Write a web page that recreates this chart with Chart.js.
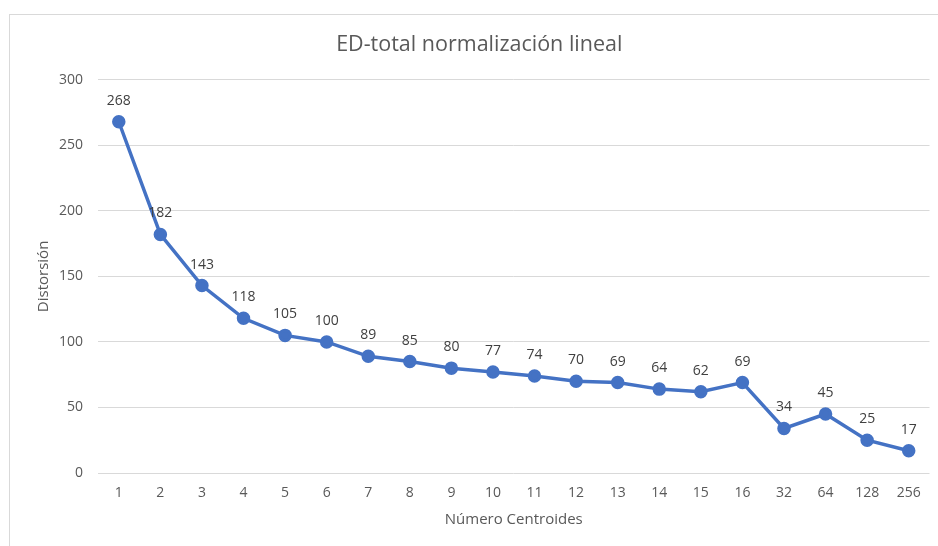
<!DOCTYPE html>
<html>
<head>
<meta charset="utf-8">
<script src="https://cdn.jsdelivr.net/npm/chart.js@4"></script>
<style>
  html, body { margin: 0; padding: 0; background: #fff; overflow: hidden; }
  .wrap { position: relative; width: 938px; height: 546px; }
  .frame { position: absolute; left: 9px; top: 14px; right: -5px; bottom: -5px; border: 1px solid #d9d9d9; }
  canvas { position: absolute; left: 0; top: 0; }
</style>
</head>
<body>
<div class="wrap">
  <div class="frame"></div>
  <canvas id="chart" width="938" height="546"></canvas>
</div>
<script>
const categories = ['1','2','3','4','5','6','7','8','9','10','11','12','13','14','15','16','32','64','128','256'];
const distortion = [268, 182, 143, 118, 105, 100, 89, 85, 80, 77, 74, 70, 69, 64, 62, 69, 34, 45, 25, 17];
const yTicks = [0, 50, 100, 150, 200, 250, 300];

const FONT = "'Open Sans', sans-serif";
const BLUE = '#4472c4';

// value labels above each point
const pointLabels = {
  id: 'pointLabels',
  afterDatasetsDraw(chart) {
    const ctx = chart.ctx;
    const meta = chart.getDatasetMeta(0);
    ctx.save();
    ctx.font = '14px ' + FONT;
    ctx.fillStyle = '#404040';
    ctx.textAlign = 'center';
    ctx.textBaseline = 'middle';
    meta.data.forEach((pt, i) => {
      ctx.fillText(String(distortion[i]), pt.x, pt.y - 21);
    });
    ctx.restore();
  }
};

new Chart(document.getElementById('chart'), {
  type: 'line',
  data: {
    labels: categories,
    datasets: [{
      label: 'Distorsión',
      data: distortion,
      borderColor: BLUE,
      backgroundColor: BLUE,
      borderWidth: 3.5,
      pointRadius: 5,
      pointBackgroundColor: BLUE,
      pointBorderColor: BLUE,
      tension: 0,
      fill: false
    }]
  },
  options: {
    responsive: false,
    animation: false,
    events: [],
    layout: { padding: { left: 24, right: 3.5, top: 0, bottom: 0 } },
    plugins: {
      legend: { display: false },
      tooltip: { enabled: false },
      title: {
        display: true,
        text: 'ED-total normalización lineal',
        color: '#595959',
        font: { family: FONT, size: 21.5, weight: 'normal' },
        padding: { top: 32, bottom: 22 }
      }
    },
    scales: {
      x: {
        offset: true,
        grid: { display: false, drawTicks: false },
        border: { display: false },
        ticks: { color: '#595959', font: { family: FONT, size: 14 }, padding: 12, maxRotation: 0, autoSkip: false },
        title: {
          display: true,
          text: 'Número Centroides',
          color: '#595959',
          font: { family: FONT, size: 15 },
          padding: { top: 0, bottom: 17 }
        },
        afterFit(scale) {
          scale.height = 73;
          scale.paddingLeft = 0;
          scale.paddingRight = 0;
        }
      },
      y: {
        min: 0,
        max: 300,
        afterBuildTicks(scale) { scale.ticks = yTicks.map(v => ({ value: v })); },
        grid: { color: '#d9d9d9', lineWidth: 1, drawTicks: false },
        border: { display: false },
        ticks: { color: '#595959', font: { family: FONT, size: 14 }, padding: 15 },
        title: {
          display: true,
          text: 'Distorsión',
          color: '#595959',
          font: { family: FONT, size: 15 },
          padding: { top: 11, bottom: 0 }
        },
        afterFit(scale) { scale.width = 74; }
      }
    }
  },
  plugins: [pointLabels]
});
</script>
</body>
</html>
